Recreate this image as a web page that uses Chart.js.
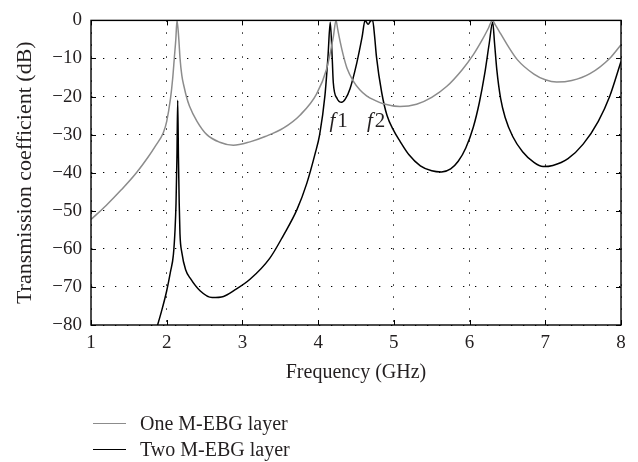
<!DOCTYPE html>
<html><head><meta charset="utf-8">
<script src="https://cdn.jsdelivr.net/npm/chart.js@4"></script>
<style>
html,body{margin:0;padding:0;background:#fff;}
#wrap{position:relative;width:638px;height:462px;overflow:hidden;}
canvas{position:absolute;left:0;top:0;}
.leg{position:absolute;left:93px;height:20px;font-family:"Liberation Serif",serif;font-size:20px;color:#231f20;display:flex;align-items:center;white-space:nowrap;}
.leg .ln{display:inline-block;width:33px;height:0;border-top:1.6px solid;margin-right:14px;}
</style></head><body>
<div id="wrap"><canvas id="c" width="638" height="462"></canvas><div id="legend"></div></div>
<script>
// ---- data ----
const freqOne = [1.0,1.2,1.4,1.6,1.75,1.85,1.955,2.0,2.05,2.08,2.1,2.12,2.136,2.16,2.176,2.2,2.23,2.26,2.3,2.4,2.53,2.7,2.88,3.1,3.3,3.54,3.76,3.98,4.11,4.2,4.236,4.26,4.29,4.33,4.38,4.46,4.55,4.64,4.75,4.86,5.08,5.3,5.5,5.7,5.9,6.05,6.17,6.25,6.3,6.34,6.41,6.5,6.63,6.85,7.0,7.15,7.35,7.59,7.85,8.0];
const dbOne   = [-52.3,-48.6,-44.5,-40,-36,-33,-29.5,-26.5,-20.5,-15,-10,-5,0,-5,-10,-14.5,-17.5,-20,-22.5,-26.5,-30,-32,-32.8,-31.9,-30.5,-28.3,-24.9,-19.3,-12.9,-4.4,0,-2.5,-5.5,-9,-12.5,-15.8,-18.2,-19.8,-21,-21.9,-22.6,-22,-20.2,-17.3,-13,-9,-5,-2,0,-1.2,-3.5,-6.5,-10.3,-14.1,-15.6,-16.2,-15.8,-14,-10,-6.4];
const freqTwo = [1.85,1.93,2.0,2.05,2.088,2.11,2.123,2.135,2.145,2.155,2.165,2.175,2.2,2.25,2.31,2.44,2.6,2.75,2.9,3.1,3.36,3.54,3.72,3.85,3.96,4.02,4.09,4.13,4.16,4.185,4.2,4.25,4.31,4.36,4.42,4.51,4.58,4.62,4.66,4.70,4.72,4.745,4.77,4.84,4.91,5.0,5.08,5.2,5.35,5.5,5.63,5.75,5.85,5.95,6.05,6.13,6.2,6.26,6.305,6.33,6.36,6.41,6.47,6.57,6.7,6.85,6.97,7.1,7.3,7.5,7.7,7.85,8.0];
const dbTwo   = [-82,-76.5,-71,-66,-61.6,-55,-48,-36,-21,-36,-48,-56,-61,-65.5,-67.7,-71,-72.8,-72.5,-70.8,-68,-62.5,-56.5,-49.7,-42.8,-35,-30,-19.7,-9.5,-0.5,-9.5,-16.3,-20.5,-21.5,-20.6,-18,-11.2,-4.4,0,-1,0,0,-4,-9.5,-19,-25,-29,-31.7,-35.3,-38.2,-39.5,-39.8,-39,-37,-33.5,-28,-21.5,-14,-6,-0.5,-6,-13,-20.5,-25.5,-30.5,-34.5,-37.3,-38.4,-38.1,-36.3,-32.5,-26.5,-20,-10.8];
const seriesNames  = ['One M-EBG layer','Two M-EBG layer'];
const seriesColors = ['#8c8c8c','#000000'];
const xTicks = [1,2,3,4,5,6,7,8];
const yTicks = [0,-10,-20,-30,-40,-50,-60,-70,-80];
const annotFreq  = [4.27, 4.765];
const annotDb    = [-26.5, -26.5];
const annotBase  = ['f','f'];
const annotIndex = ['1','2'];
const xTitle = 'Frequency (GHz)';
const yTitle = 'Transmission coefficient (dB)';

const FONT = '"Liberation Serif", "Times New Roman", serif';
const TXT = '#231f20';

const toPts = (xs, ys) => xs.map((x, i) => ({x, y: ys[i]}));

const framePlugin = {
  id: 'frame',
  afterDatasetsDraw(chart) {
    const {ctx, chartArea: a, scales: {x, y}} = chart;
    ctx.save();
    ctx.strokeStyle = '#000';
    ctx.lineWidth = 1;
    const L = 5;
    ctx.beginPath();
    xTicks.forEach(v => {
      const px = Math.round(x.getPixelForValue(v)) + 0.5;
      ctx.moveTo(px, a.bottom); ctx.lineTo(px, a.bottom - L);
      ctx.moveTo(px, a.top); ctx.lineTo(px, a.top + L);
    });
    yTicks.forEach(v => {
      const py = Math.round(y.getPixelForValue(v)) + 0.5;
      ctx.moveTo(a.left, py); ctx.lineTo(a.left + L, py);
      ctx.moveTo(a.right, py); ctx.lineTo(a.right - L, py);
    });
    ctx.stroke();
    ctx.lineWidth = 1.4;
    ctx.strokeRect(a.left, a.top, a.right - a.left, a.bottom - a.top);
    // annotations f1, f2
    ctx.fillStyle = TXT;
    ctx.textBaseline = 'middle';
    ctx.textAlign = 'left';
    annotFreq.forEach((f, i) => {
      const px = x.getPixelForValue(f), py = y.getPixelForValue(annotDb[i]);
      ctx.font = 'italic 21px ' + FONT;
      const w1 = ctx.measureText(annotBase[i]).width;
      ctx.font = '21px ' + FONT;
      const w2 = ctx.measureText(annotIndex[i]).width;
      const start = px - (w1 + 2 + w2) / 2;
      ctx.font = 'italic 21px ' + FONT;
      ctx.fillText(annotBase[i], start, py);
      ctx.font = '21px ' + FONT;
      ctx.fillText(annotIndex[i], start + w1 + 2, py);
    });
    ctx.restore();
  }
};

new Chart(document.getElementById('c'), {
  type: 'line',
  data: {
    datasets: [
      {label: seriesNames[0], data: toPts(freqOne, dbOne), borderColor: seriesColors[0], borderWidth: 1.5},
      {label: seriesNames[1], data: toPts(freqTwo, dbTwo), borderColor: seriesColors[1], borderWidth: 1.5}
    ]
  },
  options: {
    responsive: false,
    animation: false,
    devicePixelRatio: 1,
    elements: {point: {radius: 0}, line: {cubicInterpolationMode: 'monotone', fill: false}},
    layout: {padding: {left: 0, top: 13, right: 17, bottom: 77}},
    plugins: {legend: {display: false}, tooltip: {enabled: false}},
    scales: {
      x: {
        type: 'linear', min: 1, max: 8,
        afterBuildTicks: s => { s.ticks = xTicks.map(v => ({value: v})); },
        afterFit: s => { s.height = 60; },
        ticks: {padding: 7, color: TXT, font: {family: FONT, size: 19}, callback: v => String(v)},
        grid: {color: '#000', lineWidth: 1, drawTicks: false},
        border: {display: false, dash: [1.3, 10.7]},
        title: {display: true, text: xTitle, color: TXT, font: {family: FONT, size: 20}, padding: 0}
      },
      y: {
        type: 'linear', min: -80, max: 0,
        afterBuildTicks: s => { s.ticks = yTicks.map(v => ({value: v})); },
        afterFit: s => { s.width = 91; },
        ticks: {padding: 9, color: TXT, font: {family: FONT, size: 19}, callback: v => (v < 0 ? '\u2212' + Math.abs(v) : String(v))},
        grid: {color: '#000', lineWidth: 1, drawTicks: false},
        border: {display: false, dash: [1.3, 10.7]},
        title: {display: true, text: yTitle, color: TXT, font: {family: FONT, size: 22}, padding: {top: 12, bottom: 0}}
      }
    }
  },
  plugins: [framePlugin]
});

// legend as HTML text
const legendEl = document.getElementById('legend');
const legendTops = [413, 439];
seriesNames.forEach((name, i) => {
  const d = document.createElement('div');
  d.className = 'leg';
  d.style.top = legendTops[i] + 'px';
  d.innerHTML = '<span class="ln" style="border-color:' + seriesColors[i] + '"></span><span></span>';
  d.lastChild.textContent = name;
  legendEl.appendChild(d);
});
</script>
</body></html>
